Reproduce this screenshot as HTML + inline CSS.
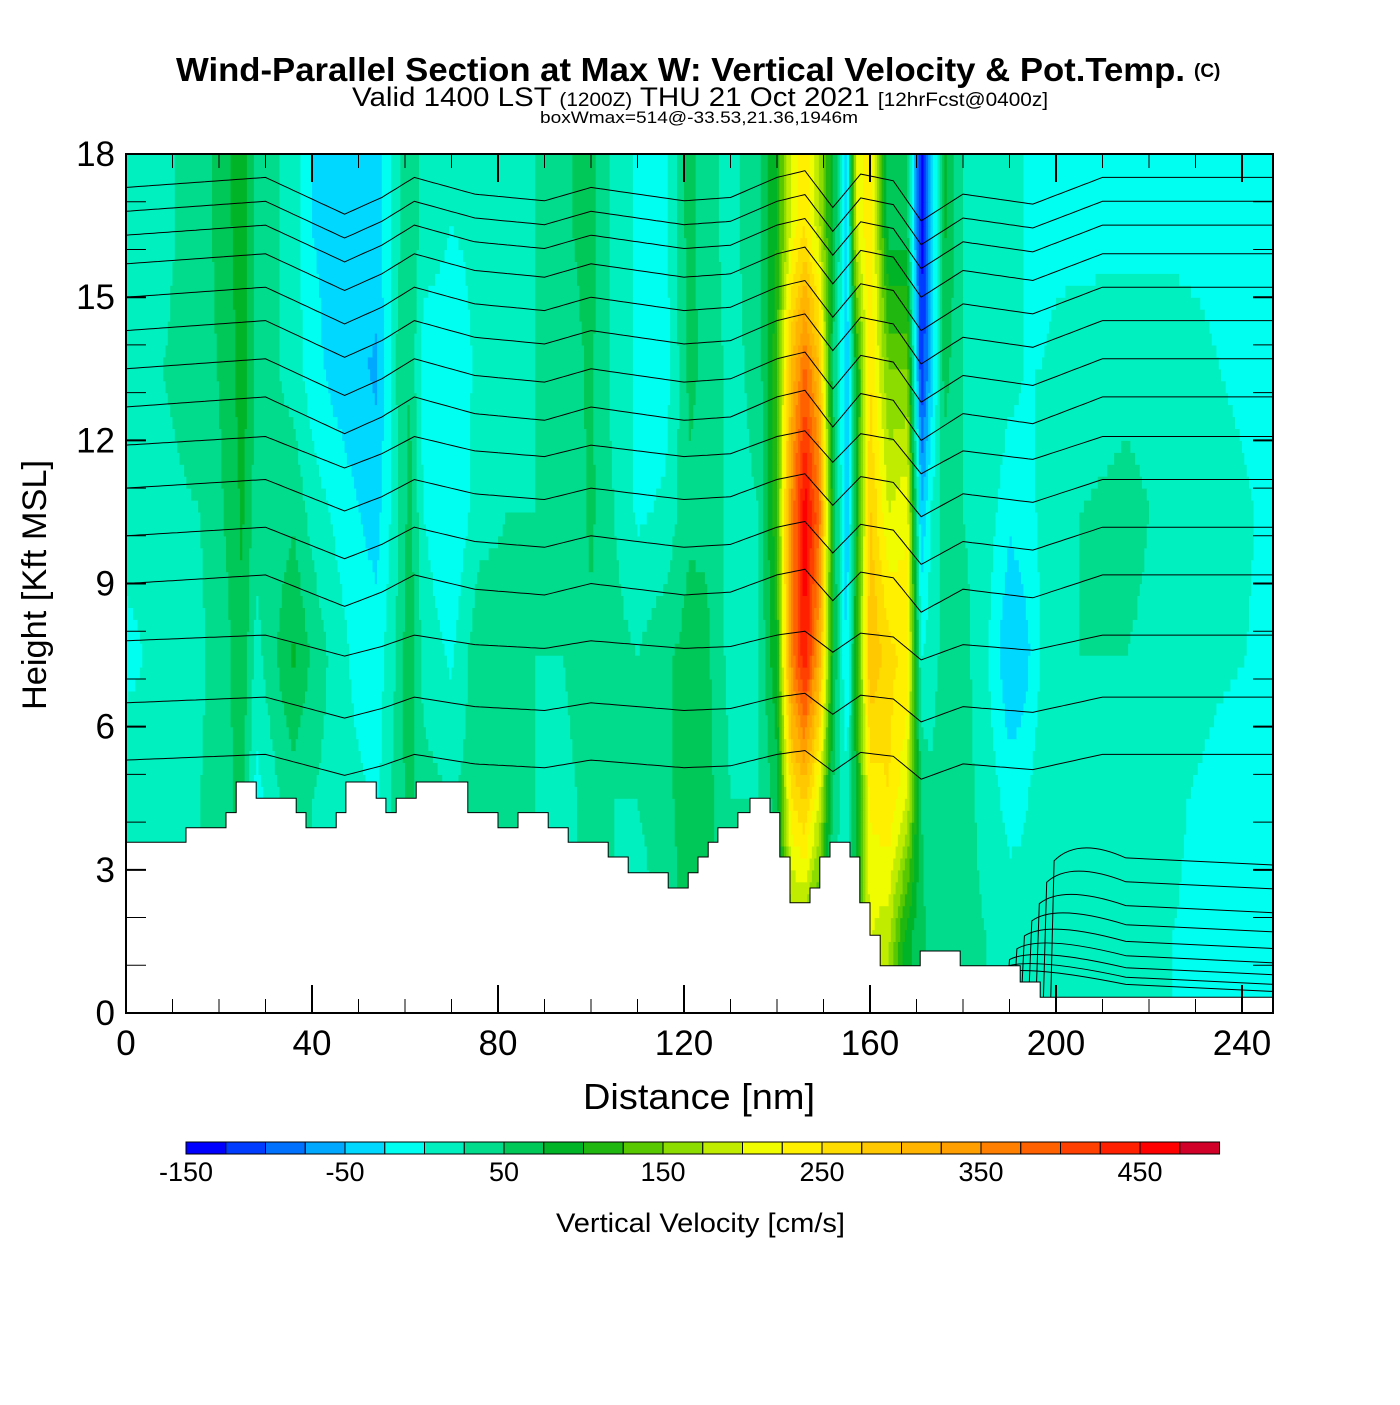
<!DOCTYPE html>
<html><head><meta charset="utf-8"><style>
body{margin:0;background:#fff;}
svg text{font-family:"Liberation Sans",sans-serif;}
</style></head><body>
<svg id="chart" width="1400" height="1400" xmlns="http://www.w3.org/2000/svg">
<rect width="1400" height="1400" fill="#fff"/>
<text x="176" y="81" textLength="1009" lengthAdjust="spacingAndGlyphs" font-size="33" font-weight="bold">Wind-Parallel Section at Max W: Vertical Velocity &amp; Pot.Temp.</text>
<text x="1194" y="77" font-size="19" font-weight="bold">(C)</text>
<text x="352" y="106" textLength="696" lengthAdjust="spacingAndGlyphs" font-size="27">Valid 1400 LST <tspan font-size="19">(1200Z)</tspan> THU 21 Oct 2021 <tspan font-size="19">[12hrFcst@0400z]</tspan></text>
<text x="540" y="123" textLength="318" lengthAdjust="spacingAndGlyphs" font-size="17">boxWmax=514@-33.53,21.36,1946m</text>
<defs><clipPath id="pc"><rect x="126" y="154" width="1147" height="859"/></clipPath></defs>
<g id="field" clip-path="url(#pc)"></g>
<g id="contours" clip-path="url(#pc)" fill="none" stroke="#000" stroke-width="1"></g>
<g id="terrain"></g>
<rect x="126" y="154" width="1147" height="859" fill="none" stroke="#000" stroke-width="2"/>
<g id="axes"></g>
<text transform="translate(46,585) rotate(-90)" text-anchor="middle" textLength="250" lengthAdjust="spacingAndGlyphs" font-size="34">Height [Kft MSL]</text>
<text x="583" y="1109" textLength="232" lengthAdjust="spacingAndGlyphs" font-size="36">Distance [nm]</text>
<g id="cbar"></g>
<text x="556" y="1232" textLength="289" lengthAdjust="spacingAndGlyphs" font-size="27">Vertical Velocity [cm/s]</text>
</svg>
<script>
const NS='http://www.w3.org/2000/svg';
const colors=['#0000ff','#003cff','#0070ff','#00a8ff','#00d8ff','#00fff0','#00f0c0','#00dc8c','#00c858','#00b428','#20b810','#58c800','#8cdc00','#c0ec00','#f0fc00','#fff000','#ffdc00','#ffc800','#ffb400','#ffa000','#ff8000','#ff6000','#ff4000','#ff2000','#ff0000','#d00028'];
const cbarLabels=[-150,-50,50,150,250,350,450];
const xTicks=[0,40,80,120,160,200,240];
const yTicks=[0,3,6,9,12,15,18];
const rowHeights=[1.5,4.5,7.5,10.5,13.5,16.5];
const colX=[0,8,16,22,25,28,33,36,40,45,50,54,58,61,64,70,76,82,88,94,100,105,110,116,121,125,130,136,140,143,146,149,152,155,157,160,164,168,171,173,176,180,185,190,193,197,205,215,225,235,246.6];
const colW=[
[15,20,-10,15,25,20],[15,20,10,20,25,20],[25,25,20,25,35,35],[45,45,45,55,60,70],[60,60,70,80,90,90],
[25,-10,15,35,45,45],[25,25,55,35,25,25],[35,35,80,45,15,15],[25,25,45,15,-15,-25],[15,15,15,-5,-35,-35],
[5,5,-10,-25,-45,-40],[-5,-5,-15,-35,-55,-35],[35,35,25,15,25,15],[60,60,70,60,50,45],[35,35,15,0,-15,15],
[25,25,-5,-25,-15,0],[35,35,45,15,5,5],[25,25,35,25,15,15],[25,25,25,25,25,25],[15,15,25,25,35,45],
[35,35,45,55,55,60],[25,25,35,25,15,15],[5,25,25,-5,-5,-5],[35,45,45,5,-15,-5],[60,60,60,45,55,60],
[60,60,55,45,45,35],[25,25,15,15,15,15],[25,25,25,25,35,45],[60,60,100,120,120,100],[150,250,350,350,300,200],
[150,280,450,470,380,250],[100,200,330,380,300,180],[5,50,80,80,50,80],[5,5,-30,-50,-50,-40],[80,80,100,80,80,200],
[200,230,300,280,250,250],[180,250,260,200,150,60],[80,200,240,220,150,60],[60,50,0,-50,-125,-140],[40,30,10,0,-50,-60],
[45,45,35,35,60,80],[35,35,35,25,25,25],[25,15,5,15,25,15],[15,-10,-50,-20,10,5],[15,-5,-40,-10,0,0],
[25,15,5,5,0,-5],[15,15,25,25,15,-10],[5,10,25,30,20,-10],[0,5,20,20,20,-10],[-10,-10,5,10,0,-10],[-10,-10,-5,-5,-10,-10]];
const terrX=[0,12.9,21.5,23.7,28,36.6,38.7,45.2,47.3,53.8,55.9,58.1,62.4,73.5,80,84.3,90.8,95.1,103.7,108,116.6,120.9,123,125.2,127.3,131.6,134.2,138.5,140.6,142.8,147.1,149.2,151.4,155.7,157.8,160,162.2,170.8,179.4,192.3,196.6,246.6];
const terrH=[3.58,3.88,4.2,4.84,4.5,4.2,3.88,4.2,4.84,4.5,4.2,4.5,4.84,4.2,3.88,4.2,3.88,3.58,3.27,2.94,2.62,2.94,3.27,3.58,3.88,4.2,4.5,4.2,3.27,2.31,2.62,3.27,3.58,3.27,2.31,1.63,0.99,1.3,0.99,0.65,0.33];
const thetaBase=[17.3,16.8,16.3,15.7,15.0,14.3,13.5,12.7,11.9,11.0,10.0,9.0,7.8,6.5,5.3];
const dispX=[0,20,30,47,55,62,75,90,100,110,120,130,140,146,152,158,165,171,180,195,210,246.6];
const dispK=[0,0.2,0.3,-0.8,-0.3,0.3,-0.2,-0.4,0,-0.2,-0.4,-0.3,0.3,0.5,-0.6,0.4,0.2,-1.0,-0.2,-0.5,0.3,0.3];
const sfcLines=[0.45,0.6,0.8,1.05,1.35,1.7,2.1,2.6,3.1];

const X=n=>126+n*4.65, Y=k=>1013-k*47.72;
function el(tag,attrs,parent){const e=document.createElementNS(NS,tag);for(const k in attrs)e.setAttribute(k,attrs[k]);parent.appendChild(e);return e;}
function interp(xs,ys,x){if(x<=xs[0])return ys[0];for(let i=1;i<xs.length;i++){if(x<=xs[i]){const t=(x-xs[i-1])/(xs[i]-xs[i-1]);return ys[i-1]+t*(ys[i]-ys[i-1]);}}return ys[ys.length-1];}
function wAt(n,k){const col=rowHeights.map((_,r)=>interp(colX,colW.map(c=>c[r]),n));return interp(rowHeights,col,k);}
function cidx(w){let i=Math.floor((w+150)/25);return Math.max(0,Math.min(25,i));}

const field=document.getElementById('field');
const dn=0.5,dk=0.25;
for(let k=0;k<18;k+=dk){
  let start=0,cur=cidx(wAt(dn/2,k+dk/2));
  for(let n=dn;n<=247;n+=dn){
    const c=n<247?cidx(wAt(n+dn/2,k+dk/2)):-1;
    if(c!==cur){
      const r=el('rect',{x:X(start).toFixed(1),y:Y(k+dk).toFixed(1),width:(X(n)-X(start)+0.6).toFixed(1),height:(dk*47.72+0.6).toFixed(1),fill:colors[cur]},field);
      
      
      start=n;cur=c;
    }
  }
}
const cg=document.getElementById('contours');
thetaBase.forEach(b=>{
  const scale=b>12?0.7:(b>8?0.6:0.4);
  let d='';
  for(let n=0;n<=247;n+=1){d+=(n?'L':'M')+X(n).toFixed(1)+','+Y(b+interp(dispX,dispK,n)*scale).toFixed(1);}
  const p=el('path',{d:d},cg);
  
  
});
sfcLines.forEach((h,i)=>{
  const x0=186+i*1.6;
  const d='M'+X(x0).toFixed(1)+','+Y(0).toFixed(1)+' L'+X(x0+0.8).toFixed(1)+','+Y(h*0.9+0.4).toFixed(1)+' Q'+X(x0+6).toFixed(1)+','+Y(h+0.6).toFixed(1)+' '+X(215).toFixed(1)+','+Y(h+0.15).toFixed(1)+' L'+X(247).toFixed(1)+','+Y(h).toFixed(1);
  const p=el('path',{d:d},cg);
  
  
});
let td='M'+X(0)+','+Y(0);
for(let i=0;i<terrH.length;i++){td+=' L'+X(terrX[i]).toFixed(1)+','+Y(terrH[i]).toFixed(1)+' L'+X(terrX[i+1]).toFixed(1)+','+Y(terrH[i]).toFixed(1);}
td+=' L'+X(terrX[terrX.length-1]).toFixed(1)+','+Y(0)+' Z';
const tp=el('path',{d:td,fill:'#fff',stroke:'#000','stroke-width':1},document.getElementById('terrain'));


const ax=document.getElementById('axes');
for(let n=0;n<=246;n+=10){
  const maj=n%40===0,L=maj?28:14;
  el('line',{x1:X(n),y1:1013,x2:X(n),y2:1013-L,stroke:'#000','stroke-width':maj?2:1},ax);
  el('line',{x1:X(n),y1:154,x2:X(n),y2:154+L,stroke:'#000','stroke-width':maj?2:1},ax);
}
for(let k=0;k<=18;k+=1){
  const maj=k%3===0,L=20;
  el('line',{x1:126,y1:Y(k),x2:126+L,y2:Y(k),stroke:'#000','stroke-width':maj?2:1},ax);
  el('line',{x1:1273,y1:Y(k),x2:1273-L,y2:Y(k),stroke:'#000','stroke-width':maj?2:1},ax);
}
xTicks.forEach(v=>{const t=el('text',{x:X(v),y:1055,'text-anchor':'middle','font-size':35},ax);t.textContent=v;
  });
yTicks.forEach(v=>{const t=el('text',{x:115,y:Y(v)+12,'text-anchor':'end','font-size':35},ax);t.textContent=v;
  });
const cb=document.getElementById('cbar');
const cbX=v=>186+(v+150)*1.59;
colors.forEach((c,i)=>{const r=el('rect',{x:cbX(-150+25*i).toFixed(1),y:1142,width:39.75,height:12,fill:c,stroke:'#000','stroke-width':1},cb);
  });
cbarLabels.forEach(v=>{const t=el('text',{x:cbX(v),y:1181,'text-anchor':'middle','font-size':27},cb);t.textContent=v;
  });
</script>
</body></html>
